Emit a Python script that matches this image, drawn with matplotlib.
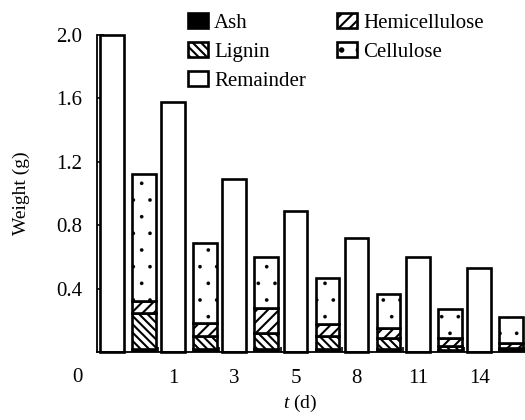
import numpy as np
import matplotlib
matplotlib.use('Agg')
import matplotlib.pyplot as plt

# Values
days = ['0', '1', '3', '5', '8', '11', '14']
remainder = [2.0, 1.58, 1.09, 0.89, 0.72, 0.60, 0.53]
ash = [0.02, 0.02, 0.02, 0.02, 0.02, 0.01, 0.01]
lignin = [0.225, 0.08, 0.10, 0.08, 0.068, 0.03, 0.015]
hemicellulose = [0.075, 0.08, 0.157, 0.076, 0.062, 0.048, 0.032]
cellulose = [0.80, 0.51, 0.323, 0.294, 0.215, 0.182, 0.163]

plt.rcParams['font.family'] = ['Liberation Serif', 'DejaVu Serif']
plt.rcParams['mathtext.fontset'] = 'custom'
plt.rcParams['mathtext.rm'] = 'Liberation Serif'
plt.rcParams['mathtext.it'] = 'Liberation Serif:italic'
plt.rcParams['hatch.linewidth'] = 1.5
plt.rcParams['hatch.color'] = 'black'

fig = plt.figure(figsize=(5.25, 4.2), dpi=100)
ax = fig.add_axes([97 / 525, 68 / 420, 1 - 97 / 525, 317 / 420])

x = np.arange(len(days))
w = 0.384
x_rem = x + 0.049
x_stk = x + 0.572
lw = 1.9

ax.bar(x_rem, remainder, w, align='edge', color='white', edgecolor='black',
       linewidth=lw, label='Remainder', clip_on=False, zorder=2)

bottom = np.zeros(len(days))
ax.bar(x_stk, ash, w, bottom=bottom, align='edge', color='black', edgecolor='black',
       linewidth=lw, label='Ash', zorder=2)
bottom += ash
ax.bar(x_stk, lignin, w, bottom=bottom, align='edge', color='white', edgecolor='black',
       hatch='\\\\\\\\', linewidth=lw, label='Lignin', zorder=2)
bottom += lignin
ax.bar(x_stk, hemicellulose, w, bottom=bottom, align='edge', color='white', edgecolor='black',
       hatch='///', linewidth=lw, label='Hemicellulose', zorder=2)
bottom += hemicellulose
# thin outline for the dots of the cellulose hatch (read when the patch is made)
plt.rcParams['hatch.linewidth'] = 0.2
ax.bar(x_stk, cellulose, w, bottom=bottom, align='edge', color='white', edgecolor='black',
       hatch='.', linewidth=lw, label='Cellulose', zorder=2)
plt.rcParams['hatch.linewidth'] = 1.5

ax.set_xlim(0, 6.99)
ax.set_ylim(0, 2.0)

ax.spines['top'].set_visible(False)
ax.spines['right'].set_visible(False)
ax.spines['left'].set_linewidth(1.3)
ax.spines['bottom'].set_linewidth(1.3)

ax.set_yticks([0.4, 0.8, 1.2, 1.6, 2.0])
ax.set_yticklabels(['0.4', '0.8', '1.2', '1.6', '2.0'])
ax.tick_params(axis='y', direction='in', length=5, width=1.2, pad=10.5, labelsize=15)

ax.set_xticks(x_rem[1:] + w / 2)
ax.set_xticklabels(days[1:])
ax.set_xticks(x[1:], minor=True)
ax.tick_params(axis='x', which='major', length=0, pad=12, labelsize=15)
ax.tick_params(axis='x', which='minor', direction='in', length=3.5, width=1.2)
ax.text(-0.327, -0.082, days[0], fontsize=15, ha='center', va='center',
        transform=ax.get_xaxis_transform(), clip_on=False)

ax.set_ylabel('Weight (g)', fontsize=14, labelpad=19)
fig.text(300 / 525, 1 - 403 / 420, r'$t$ (d)', fontsize=14, ha='center', va='center')

h, l = ax.get_legend_handles_labels()
order = [l.index(n) for n in ['Ash', 'Lignin', 'Remainder', 'Hemicellulose', 'Cellulose']]
ax.legend([h[i] for i in order], [l[i] for i in order], ncol=2, frameon=False,
          loc='upper left', bbox_to_anchor=(188 / 525, 1 - 13 / 420),
          bbox_transform=fig.transFigure, fontsize=15, borderpad=0, borderaxespad=0,
          handlelength=0.95, handleheight=0.7, handletextpad=0.3,
          labelspacing=0.45, columnspacing=1.5)

fig.savefig('out.png', dpi=100)
